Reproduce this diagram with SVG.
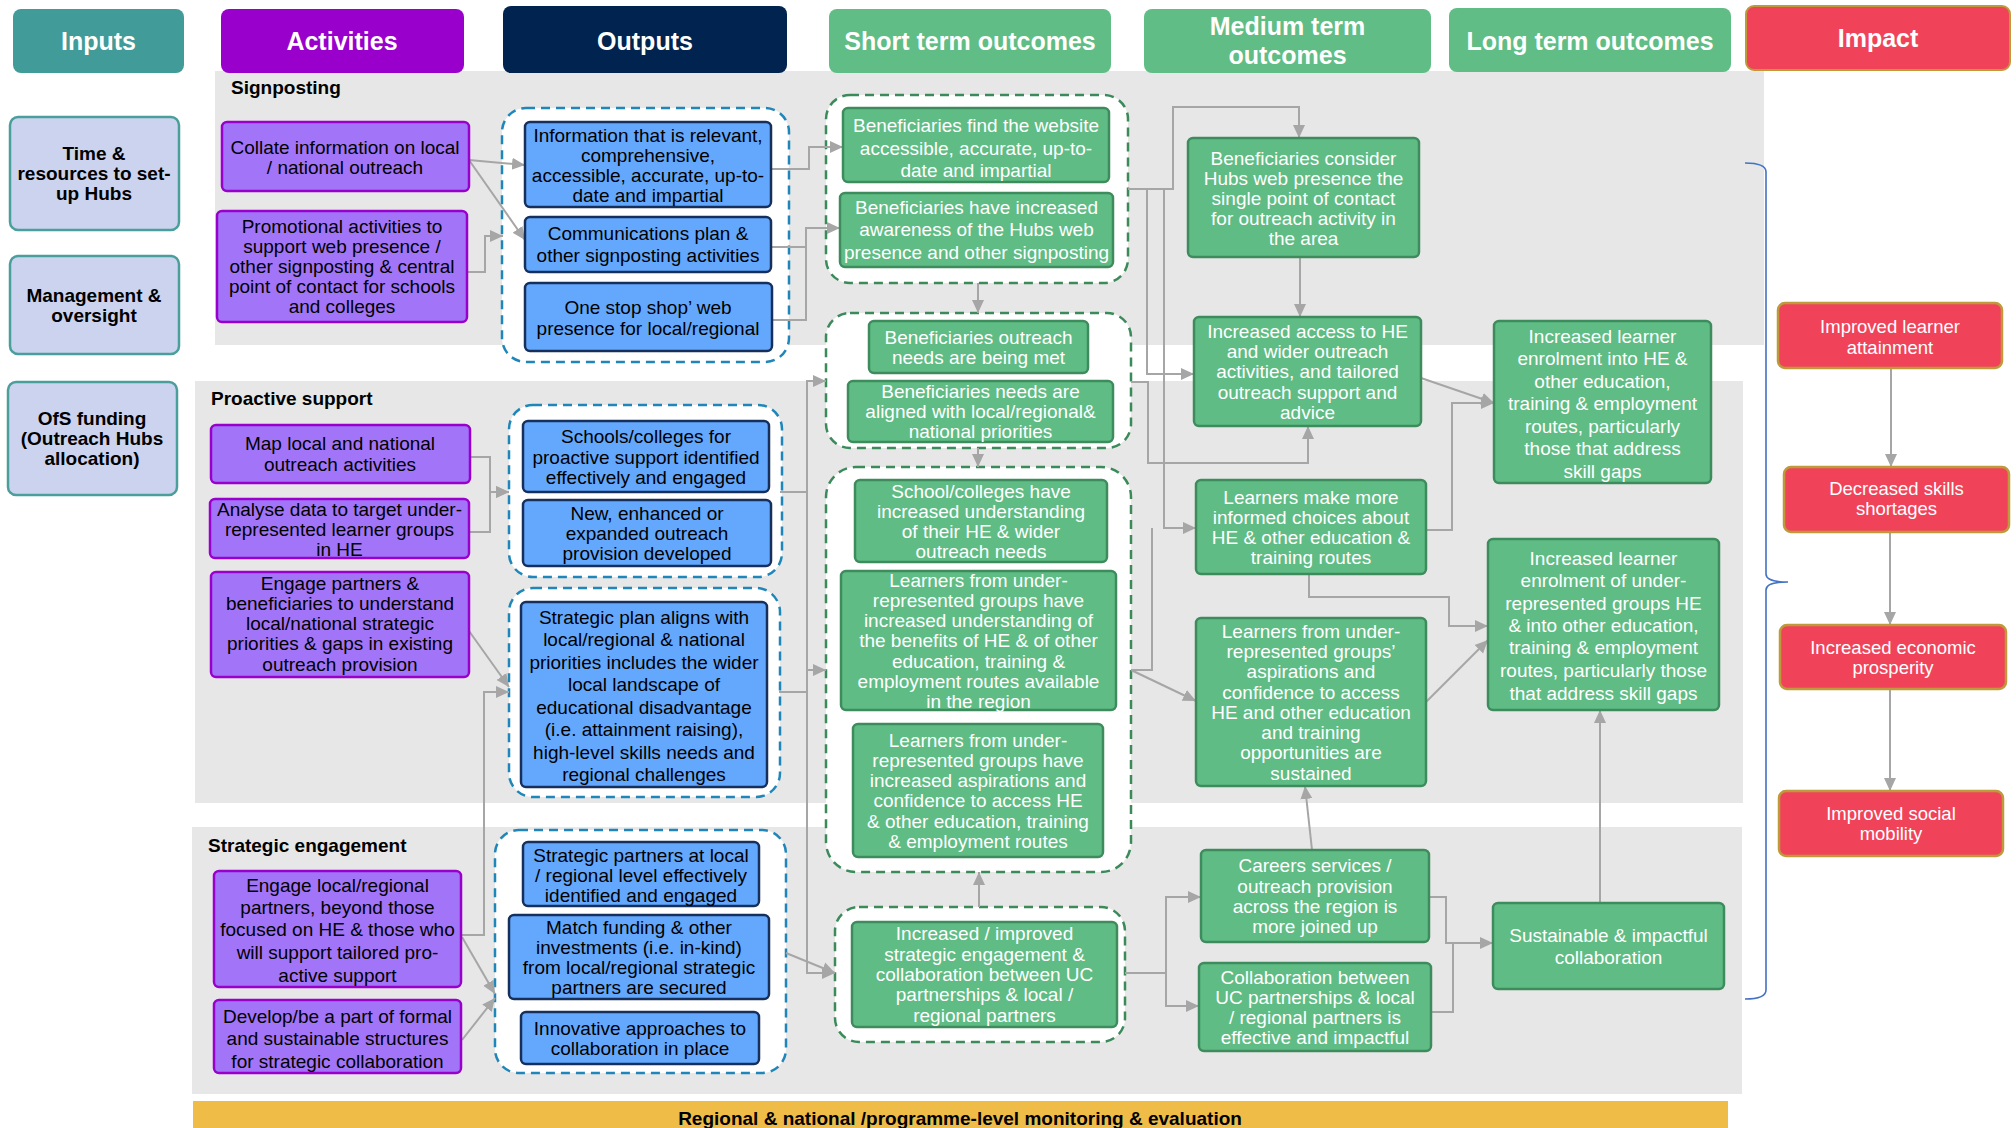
<svg xmlns="http://www.w3.org/2000/svg" width="2016" height="1128" viewBox="0 0 2016 1128">
<style>
text{font-family:"Liberation Sans",Arial,sans-serif;}
.h{font-size:25px;font-weight:bold;fill:#fff;text-anchor:middle;}
.sec{font-size:19px;font-weight:bold;fill:#000;}
.t{font-size:19px;text-anchor:middle;fill:#000;}
.tb{font-size:19px;font-weight:bold;text-anchor:middle;fill:#000;}
.tw{font-size:19px;text-anchor:middle;fill:#fff;}
.ti{font-size:18.5px;text-anchor:middle;fill:#fff;}
.panel{fill:#E7E7E7;}
.in{fill:#CCD3EE;stroke:#4A9E9B;stroke-width:2.5;}
.act{fill:#A275F8;stroke:#9900CC;stroke-width:2.5;}
.out{fill:#64A8FE;stroke:#16305E;stroke-width:2.5;}
.grn{fill:#5FBC84;stroke:#3E8C5D;stroke-width:2.5;}
.imp{fill:#F0435A;stroke:#BF9A3A;stroke-width:2.5;}
.gb{fill:#fff;stroke:#1F86B9;stroke-width:2.5;stroke-dasharray:9 6;}
.gg{fill:#fff;stroke:#3A8A5A;stroke-width:2.5;stroke-dasharray:9 6;}
.c{fill:none;stroke:#A6A6A6;stroke-width:2;marker-end:url(#ah);}
.cn{fill:none;stroke:#A6A6A6;stroke-width:2;}
</style>
<defs>
<marker id="ah" markerUnits="userSpaceOnUse" markerWidth="14" markerHeight="14" refX="13" refY="7" orient="auto">
<path d="M0,1 L13,7 L0,13 z" fill="#A6A6A6"/>
</marker>
</defs>
<rect width="2016" height="1128" fill="#fff"/>

<g id="panels">
<rect class="panel" x="215" y="71" width="1549" height="274"/>
<rect class="panel" x="195" y="381" width="1548" height="422"/>
<rect class="panel" x="192" y="827" width="1550" height="267"/>
<rect x="193" y="1101" width="1535" height="27" fill="#F0BC48"/>
<text x="960" y="1125" style="font-size:19px;font-weight:bold;text-anchor:middle;fill:#000">Regional &amp; national /programme-level monitoring &amp; evaluation</text>
<text class="sec" x="231" y="94">Signposting</text>
<text class="sec" x="211" y="405">Proactive support</text>
<text class="sec" x="208" y="852">Strategic engagement</text>
</g>

<g id="headers">
<g id="hdr-inputs"><rect x="13" y="9" width="171" height="64" rx="8" fill="#419B98"/><text class="h" x="98.5" y="50">Inputs</text></g>
<g id="hdr-activities"><rect x="221" y="9" width="243" height="64" rx="8" fill="#9900CC"/><text class="h" x="342" y="50">Activities</text></g>
<g id="hdr-outputs"><rect x="503" y="6" width="284" height="67" rx="8" fill="#00234F"/><text class="h" x="645" y="50">Outputs</text></g>
<g id="hdr-short"><rect x="829" y="9" width="282" height="64" rx="8" fill="#5FBD85"/><text class="h" x="970" y="50">Short term outcomes</text></g>
<g id="hdr-medium"><rect x="1144" y="9" width="287" height="64" rx="8" fill="#5FBD85"/><text class="h" x="1287.5" y="35">Medium term</text><text class="h" x="1287.5" y="64">outcomes</text></g>
<g id="hdr-long"><rect x="1449" y="8" width="282" height="64" rx="8" fill="#5FBD85"/><text class="h" x="1590" y="50">Long term outcomes</text></g>
<g id="hdr-impact"><rect x="1746" y="6" width="264" height="64" rx="8" fill="#F0435A" stroke="#BF9A3A" stroke-width="2"/><text class="h" x="1878" y="47">Impact</text></g>
</g>

<g id="groups">
<rect id="grp-out-sign" class="gb" x="502" y="108" width="287" height="254" rx="24"/>
<rect id="grp-out-pro1" class="gb" x="509" y="405" width="273" height="172" rx="24"/>
<rect id="grp-out-pro2" class="gb" x="509" y="588" width="271" height="209" rx="24"/>
<rect id="grp-out-str" class="gb" x="495" y="830" width="291" height="243" rx="24"/>
<rect id="grp-st-1" class="gg" x="826" y="95" width="302" height="188" rx="24"/>
<rect id="grp-st-2" class="gg" x="826" y="313" width="305" height="135" rx="24"/>
<rect id="grp-st-3" class="gg" x="826" y="467" width="305" height="405" rx="30"/>
<rect id="grp-st-4" class="gg" x="835" y="907" width="290" height="135" rx="24"/>
</g>

<g id="connectors">
<path class="c" d="M469,160 L525,165"/>
<path class="c" d="M469,160 L525,240"/>
<path class="c" d="M467,272 H485 V236 H503"/>
<path class="c" d="M470,457 H490 V492 H509"/>
<path class="c" d="M469,532 H490 V492 H509"/>
<path class="c" d="M469,631 L509,687"/>
<path class="c" d="M461,935 H484 V692 H509"/>
<path class="c" d="M462,937 L495,994"/>
<path class="c" d="M462,1040 L495,998"/>
<path class="c" d="M771,169 H809 V147 H843"/>
<path class="c" d="M771,247 H806 V228 H840"/>
<path class="cn" d="M771,320 H806 V228"/>
<path class="c" d="M780,492 H807 V381 H826"/>
<path class="c" d="M779,692 H807 V670 H826"/>
<path class="c" d="M807,492 V973 H835"/>
<path class="c" d="M786,953 L835,973"/>
<path class="c" d="M978,283 V313"/>
<path class="c" d="M978,448 V467"/>
<path class="c" d="M979,907 V872"/>
<path class="c" d="M1128,189 H1173 V107 H1299 V138"/>
<path class="c" d="M1147,189 V374 H1194"/>
<path class="c" d="M1164,189 V528 H1196"/>
<path class="c" d="M1131,382 H1148 V463 H1308 V426"/>
<path class="cn" d="M1131,670 H1152 V528"/>
<path class="c" d="M1131,670 L1196,701"/>
<path class="c" d="M1125,973 H1166 V897 H1201"/>
<path class="c" d="M1166,973 V1006 H1199"/>
<path class="c" d="M1312,850 L1305,786"/>
<path class="c" d="M1300,257 V317"/>
<path class="c" d="M1421,378 L1494,403"/>
<path class="c" d="M1426,530 H1452 V403 H1494"/>
<path class="c" d="M1309,574 V597 H1449 V626 H1488"/>
<path class="c" d="M1426,702 L1488,640"/>
<path class="c" d="M1429,897 H1446 V943 H1493"/>
<path class="cn" d="M1431,1012 H1453 V943"/>
<path class="c" d="M1600,903 V710"/>
<path class="c" d="M1891,368 V467"/>
<path class="c" d="M1890,532 V625"/>
<path class="c" d="M1890,689 V791"/>
<path fill="none" stroke="#4472C4" stroke-width="1.6" d="M1745,163 Q1766,163 1766,172 V574 Q1766,582 1788,582 Q1766,582 1766,590 V990 Q1766,999 1745,999"/>
</g>

<g id="in-time"><rect class="in" x="10" y="117" width="169" height="113" rx="8"/><text class="tb"><tspan x="94" y="159.5">Time &amp;</tspan><tspan x="94" y="179.5">resources to set-</tspan><tspan x="94" y="199.5">up Hubs</tspan></text></g>
<g id="in-mgmt"><rect class="in" x="10" y="256" width="169" height="98" rx="8"/><text class="tb"><tspan x="94" y="301.5">Management &amp;</tspan><tspan x="94" y="321.5">oversight</tspan></text></g>
<g id="in-ofs"><rect class="in" x="8" y="382" width="169" height="113" rx="8"/><text class="tb"><tspan x="92" y="424.5">OfS funding</tspan><tspan x="92" y="444.5">(Outreach Hubs</tspan><tspan x="92" y="464.5">allocation)</tspan></text></g>

<g id="act-collate"><rect class="act" x="222" y="122" width="247" height="69" rx="5"/><text class="t"><tspan x="345" y="153.5">Collate information on local</tspan><tspan x="345" y="173.5">/ national outreach</tspan></text></g>
<g id="act-promo"><rect class="act" x="217" y="211" width="250" height="111" rx="5"/><text class="t"><tspan x="342" y="232.5">Promotional activities to</tspan><tspan x="342" y="252.5">support web presence /</tspan><tspan x="342" y="272.5">other signposting &amp; central</tspan><tspan x="342" y="292.5">point of contact for schools</tspan><tspan x="342" y="312.5">and colleges</tspan></text></g>
<g id="act-map"><rect class="act" x="211" y="425" width="259" height="58" rx="5"/><text class="t"><tspan x="340" y="449.5">Map local and national</tspan><tspan x="340" y="470.5">outreach activities</tspan></text></g>
<g id="act-analyse"><rect class="act" x="210" y="499" width="259" height="59" rx="5"/><text class="t"><tspan x="339.5" y="515.5">Analyse data to target under-</tspan><tspan x="339.5" y="535.5">represented learner groups</tspan><tspan x="339.5" y="555.5">in HE</tspan></text></g>
<g id="act-engage"><rect class="act" x="211" y="572" width="258" height="105" rx="5"/><text class="t"><tspan x="340" y="589.5">Engage partners &amp;</tspan><tspan x="340" y="609.5">beneficiaries to understand</tspan><tspan x="340" y="630">local/national strategic</tspan><tspan x="340" y="650">priorities &amp; gaps in existing</tspan><tspan x="340" y="670.5">outreach provision</tspan></text></g>
<g id="act-engage-local"><rect class="act" x="214" y="871" width="247" height="116" rx="5"/><text class="t"><tspan x="337.5" y="891.5">Engage local/regional</tspan><tspan x="337.5" y="913.5">partners, beyond those</tspan><tspan x="337.5" y="935.5">focused on HE &amp; those who</tspan><tspan x="337.5" y="958.5">will support tailored pro-</tspan><tspan x="337.5" y="981.5">active support</tspan></text></g>
<g id="act-develop"><rect class="act" x="214" y="1000" width="247" height="73" rx="5"/><text class="t"><tspan x="337.5" y="1022.5">Develop/be a part of formal</tspan><tspan x="337.5" y="1044.5">and sustainable structures</tspan><tspan x="337.5" y="1067.5">for strategic collaboration</tspan></text></g>

<g id="out-info"><rect class="out" x="525" y="122" width="246" height="85" rx="5"/><text class="t"><tspan x="648" y="141.5">Information that is relevant,</tspan><tspan x="648" y="161.5">comprehensive,</tspan><tspan x="648" y="181.5">accessible, accurate, up-to-</tspan><tspan x="648" y="202">date and impartial</tspan></text></g>
<g id="out-comms"><rect class="out" x="525" y="217" width="246" height="55" rx="5"/><text class="t"><tspan x="648" y="239.5">Communications plan &amp;</tspan><tspan x="648" y="261.5">other signposting activities</tspan></text></g>
<g id="out-onestop"><rect class="out" x="525" y="283" width="247" height="68" rx="5"/><text class="t"><tspan x="648" y="313.5">One stop shop’ web</tspan><tspan x="648" y="334.5">presence for local/regional</tspan></text></g>
<g id="out-schools"><rect class="out" x="523" y="421" width="246" height="71" rx="5"/><text class="t"><tspan x="646" y="442.5">Schools/colleges for</tspan><tspan x="646" y="463.5">proactive support identified</tspan><tspan x="646" y="483.5">effectively and engaged</tspan></text></g>
<g id="out-new"><rect class="out" x="523" y="500" width="248" height="66" rx="5"/><text class="t"><tspan x="647" y="519.5">New, enhanced or</tspan><tspan x="647" y="539.5">expanded outreach</tspan><tspan x="647" y="559.5">provision developed</tspan></text></g>
<g id="out-plan"><rect class="out" x="521" y="602" width="246" height="185" rx="5"/><text class="t"><tspan x="644" y="623.5">Strategic plan aligns with</tspan><tspan x="644" y="646">local/regional &amp; national</tspan><tspan x="644" y="668.5">priorities includes the wider</tspan><tspan x="644" y="691">local landscape of</tspan><tspan x="644" y="713.5">educational disadvantage</tspan><tspan x="644" y="736">(i.e. attainment raising),</tspan><tspan x="644" y="758.5">high-level skills needs and</tspan><tspan x="644" y="781">regional challenges</tspan></text></g>
<g id="out-partners"><rect class="out" x="523" y="842" width="236" height="64" rx="5"/><text class="t"><tspan x="641" y="861.5">Strategic partners at local</tspan><tspan x="641" y="881.5">/ regional level effectively</tspan><tspan x="641" y="901.5">identified and engaged</tspan></text></g>
<g id="out-match"><rect class="out" x="509" y="915" width="260" height="84" rx="5"/><text class="t"><tspan x="639" y="933.5">Match funding &amp; other</tspan><tspan x="639" y="953.5">investments (i.e. in-kind)</tspan><tspan x="639" y="973.5">from local/regional strategic</tspan><tspan x="639" y="993.5">partners are secured</tspan></text></g>
<g id="out-innov"><rect class="out" x="521" y="1012" width="238" height="52" rx="5"/><text class="t"><tspan x="640" y="1034.5">Innovative approaches to</tspan><tspan x="640" y="1054.5">collaboration in place</tspan></text></g>

<g id="st-website"><rect class="grn" x="843" y="108" width="266" height="74" rx="5"/><text class="tw"><tspan x="976" y="131.5">Beneficiaries find the website</tspan><tspan x="976" y="154.5">accessible, accurate, up-to-</tspan><tspan x="976" y="176.5">date and impartial</tspan></text></g>
<g id="st-awareness"><rect class="grn" x="840" y="193" width="273" height="74" rx="5"/><text class="tw"><tspan x="976.5" y="213.5">Beneficiaries have increased</tspan><tspan x="976.5" y="235.5">awareness of the Hubs web</tspan><tspan x="976.5" y="258.5">presence and other signposting</tspan></text></g>
<g id="st-needs-met"><rect class="grn" x="869" y="321" width="219" height="52" rx="5"/><text class="tw"><tspan x="978.5" y="343.5">Beneficiaries outreach</tspan><tspan x="978.5" y="363.5">needs are being met</tspan></text></g>
<g id="st-aligned"><rect class="grn" x="848" y="381" width="265" height="61" rx="5"/><text class="tw"><tspan x="980.5" y="397.5">Beneficiaries needs are</tspan><tspan x="980.5" y="417.5">aligned with local/regional&amp;</tspan><tspan x="980.5" y="437.5">national priorities</tspan></text></g>
<g id="st-schools"><rect class="grn" x="855" y="480" width="252" height="82" rx="5"/><text class="tw"><tspan x="981" y="497.5">School/colleges have</tspan><tspan x="981" y="517.5">increased understanding</tspan><tspan x="981" y="537.5">of their HE &amp; wider</tspan><tspan x="981" y="557.5">outreach needs</tspan></text></g>
<g id="st-understanding"><rect class="grn" x="841" y="571" width="275" height="139" rx="5"/><text class="tw"><tspan x="978.5" y="586.5">Learners from under-</tspan><tspan x="978.5" y="606.5">represented groups have</tspan><tspan x="978.5" y="626.5">increased understanding of</tspan><tspan x="978.5" y="646.5">the benefits of HE &amp; of other</tspan><tspan x="978.5" y="667.5">education, training &amp;</tspan><tspan x="978.5" y="687.5">employment routes available</tspan><tspan x="978.5" y="707.5">in the region</tspan></text></g>
<g id="st-aspirations"><rect class="grn" x="853" y="724" width="250" height="133" rx="5"/><text class="tw"><tspan x="978" y="746.5">Learners from under-</tspan><tspan x="978" y="766.5">represented groups have</tspan><tspan x="978" y="786.5">increased aspirations and</tspan><tspan x="978" y="806.5">confidence to access HE</tspan><tspan x="978" y="827.5">&amp; other education, training</tspan><tspan x="978" y="847.5">&amp; employment routes</tspan></text></g>
<g id="st-strategic"><rect class="grn" x="852" y="922" width="265" height="105" rx="5"/><text class="tw"><tspan x="984.5" y="939.5">Increased / improved</tspan><tspan x="984.5" y="960.5">strategic engagement &amp;</tspan><tspan x="984.5" y="980.5">collaboration between UC</tspan><tspan x="984.5" y="1000.5">partnerships &amp; local /</tspan><tspan x="984.5" y="1021.5">regional partners</tspan></text></g>

<g id="mt-single-point"><rect class="grn" x="1188" y="138" width="231" height="119" rx="5"/><text class="tw"><tspan x="1303.5" y="164.5">Beneficiaries consider</tspan><tspan x="1303.5" y="184.5">Hubs web presence the</tspan><tspan x="1303.5" y="204.5">single point of contact</tspan><tspan x="1303.5" y="224.5">for outreach activity in</tspan><tspan x="1303.5" y="244.5">the area</tspan></text></g>
<g id="mt-access"><rect class="grn" x="1194" y="317" width="227" height="109" rx="5"/><text class="tw"><tspan x="1307.5" y="337.5">Increased access to HE</tspan><tspan x="1307.5" y="358">and wider outreach</tspan><tspan x="1307.5" y="378">activities, and tailored</tspan><tspan x="1307.5" y="398.5">outreach support and</tspan><tspan x="1307.5" y="418.5">advice</tspan></text></g>
<g id="mt-choices"><rect class="grn" x="1196" y="480" width="230" height="94" rx="5"/><text class="tw"><tspan x="1311" y="503.5">Learners make more</tspan><tspan x="1311" y="523.5">informed choices about</tspan><tspan x="1311" y="543.5">HE &amp; other education &amp;</tspan><tspan x="1311" y="563.5">training routes</tspan></text></g>
<g id="mt-sustained"><rect class="grn" x="1196" y="618" width="230" height="168" rx="5"/><text class="tw"><tspan x="1311" y="637.5">Learners from under-</tspan><tspan x="1311" y="658">represented groups’</tspan><tspan x="1311" y="678">aspirations and</tspan><tspan x="1311" y="698.5">confidence  to access</tspan><tspan x="1311" y="718.5">HE and other education</tspan><tspan x="1311" y="739">and training</tspan><tspan x="1311" y="759">opportunities are</tspan><tspan x="1311" y="779.5">sustained</tspan></text></g>
<g id="mt-careers"><rect class="grn" x="1201" y="850" width="228" height="92" rx="5"/><text class="tw"><tspan x="1315" y="871.5">Careers services /</tspan><tspan x="1315" y="892.5">outreach provision</tspan><tspan x="1315" y="912.5">across the region is</tspan><tspan x="1315" y="932.5">more joined up</tspan></text></g>
<g id="mt-collab"><rect class="grn" x="1199" y="963" width="232" height="88" rx="5"/><text class="tw"><tspan x="1315" y="983.5">Collaboration between</tspan><tspan x="1315" y="1003.5">UC partnerships &amp; local</tspan><tspan x="1315" y="1023.5">/ regional partners is</tspan><tspan x="1315" y="1043.5">effective and impactful</tspan></text></g>

<g id="lt-enrolment"><rect class="grn" x="1494" y="321" width="217" height="162" rx="5"/><text class="tw"><tspan x="1602.5" y="342.5">Increased learner</tspan><tspan x="1602.5" y="364.5">enrolment into HE &amp;</tspan><tspan x="1602.5" y="387.5">other education,</tspan><tspan x="1602.5" y="409.5">training &amp; employment</tspan><tspan x="1602.5" y="432.5">routes, particularly</tspan><tspan x="1602.5" y="454.5">those that address</tspan><tspan x="1602.5" y="477.5">skill gaps</tspan></text></g>
<g id="lt-underrep"><rect class="grn" x="1488" y="539" width="231" height="171" rx="5"/><text class="tw"><tspan x="1603.5" y="564.5">Increased learner</tspan><tspan x="1603.5" y="586.5">enrolment of under-</tspan><tspan x="1603.5" y="609.5">represented groups HE</tspan><tspan x="1603.5" y="631.5">&amp; into other education,</tspan><tspan x="1603.5" y="653.5">training &amp; employment</tspan><tspan x="1603.5" y="676.5">routes, particularly those</tspan><tspan x="1603.5" y="699.5">that address skill gaps</tspan></text></g>
<g id="lt-collab"><rect class="grn" x="1493" y="903" width="231" height="86" rx="5"/><text class="tw"><tspan x="1608.5" y="941.5">Sustainable &amp; impactful</tspan><tspan x="1608.5" y="963.5">collaboration</tspan></text></g>

<g id="imp-attainment"><rect class="imp" x="1778" y="303" width="224" height="65" rx="7"/><text class="ti"><tspan x="1890" y="332.5">Improved learner</tspan><tspan x="1890" y="353.5">attainment</tspan></text></g>
<g id="imp-skills"><rect class="imp" x="1784" y="467" width="225" height="65" rx="7"/><text class="ti"><tspan x="1896.5" y="494.5">Decreased skills</tspan><tspan x="1896.5" y="514.5">shortages</tspan></text></g>
<g id="imp-prosperity"><rect class="imp" x="1780" y="625" width="226" height="64" rx="7"/><text class="ti"><tspan x="1893" y="653.5">Increased economic</tspan><tspan x="1893" y="673.5">prosperity</tspan></text></g>
<g id="imp-mobility"><rect class="imp" x="1779" y="791" width="224" height="65" rx="7"/><text class="ti"><tspan x="1891" y="819.5">Improved social</tspan><tspan x="1891" y="839.5">mobility</tspan></text></g>
</svg>
